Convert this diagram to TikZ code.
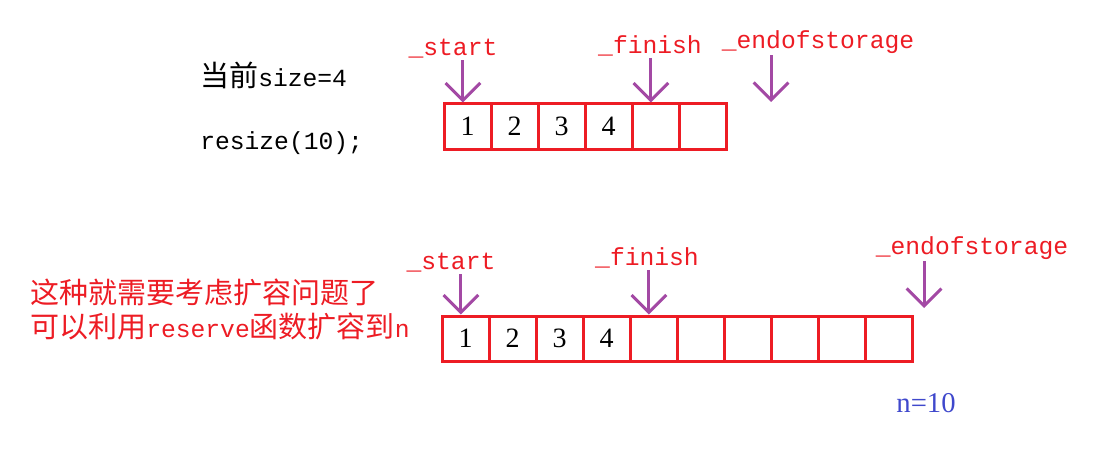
\documentclass[tikz,border=0pt]{standalone}
\usepackage{fontspec}
\setmainfont{Liberation Serif}
\setmonofont{Liberation Mono}[Scale=0.85]
\newfontfamily\cjkfont{Noto Sans CJK SC}
\usetikzlibrary{arrows.meta,positioning}
\definecolor{cellred}{RGB}{237,28,36}
\definecolor{ptrpurple}{RGB}{163,73,164}
\definecolor{nblue}{RGB}{63,72,204}

\begin{document}
\begin{tikzpicture}[
  x=0.75pt, y=-0.75pt,
  cell/.style={
    draw=cellred,
    line width=2.25pt,
    minimum width=35.25pt,
    minimum height=33.75pt,
    inner sep=0pt,
    font=\fontsize{21}{21}\selectfont
  },
  ptrlabel/.style={
    text=cellred,
    inner sep=1pt,
    font=\fontsize{21.75}{26}\ttfamily
  },
  pointer/.style={
    draw=ptrpurple,
    line width=2.25pt,
    -{Straight Barb[length=13pt,width=26pt]}
  },
  note/.style={
    anchor=west,
    inner sep=0pt,
    font=\fontsize{21.75}{26}\selectfont
  }
]
\useasboundingbox (0,0) rectangle (1103,453);

%-----------------------------
% Before: size 4, capacity 6
%-----------------------------
\node[note] (cursize) at (200,75) {{\cjkfont 当前}\texttt{size=4}};
\node[note] (callresize) at (200,143) {\texttt{resize(10);}};

\foreach \i in {1,...,6}
  \node[cell] (a\i) at ({444+47*(\i-0.5)},126.5) {\ifnum\i<5 \i\fi};

\node[ptrlabel] (startA) at (453,49) {\_start};
\node[ptrlabel] (finishA) at (650,46) {\_finish};
\node[ptrlabel] (eosA) at (818,42) {\_endofstorage};
\coordinate (eosendA) at (771,102);

\draw[pointer] ([xshift=-3.4pt]a1.north |- startA.south) -- ([xshift=-3.4pt]a1.north);
\draw[pointer] ([xshift=-3.4pt]a5.north |- finishA.south) -- ([xshift=-3.4pt]a5.north);
\draw[pointer] (eosendA |- eosA.south) -- (eosendA);

%-----------------------------
% After: reserve to n = 10
%-----------------------------
\node[note, text=cellred, align=left] (hint) at (30,309.5)
  {{\cjkfont 这种就需要考虑扩容问题了}\\
   {\cjkfont 可以利用}\texttt{reserve}{\cjkfont 函数扩容到}\texttt{n}};

\foreach \i in {1,...,10}
  \node[cell] (b\i) at ({442+47*(\i-0.5)},338.5) {\ifnum\i<5 \i\fi};

\node[ptrlabel] (startB) at (451,263) {\_start};
\node[ptrlabel] (finishB) at (647,258) {\_finish};
\node[ptrlabel] (eosB) at (972,248) {\_endofstorage};
\coordinate (eosendB) at (924,308);

\draw[pointer] ([xshift=-3.4pt]b1.north |- startB.south) -- ([xshift=-3.4pt]b1.north);
\draw[pointer] ([xshift=-3.4pt]b5.north |- finishB.south) -- ([xshift=-3.4pt]b5.north);
\draw[pointer] (eosendB |- eosB.south) -- (eosendB);

\node[text=nblue, inner sep=0pt, font=\fontsize{21.5}{26}\selectfont] (ncap) at (926,403) {n=10};

\end{tikzpicture}
\end{document}
